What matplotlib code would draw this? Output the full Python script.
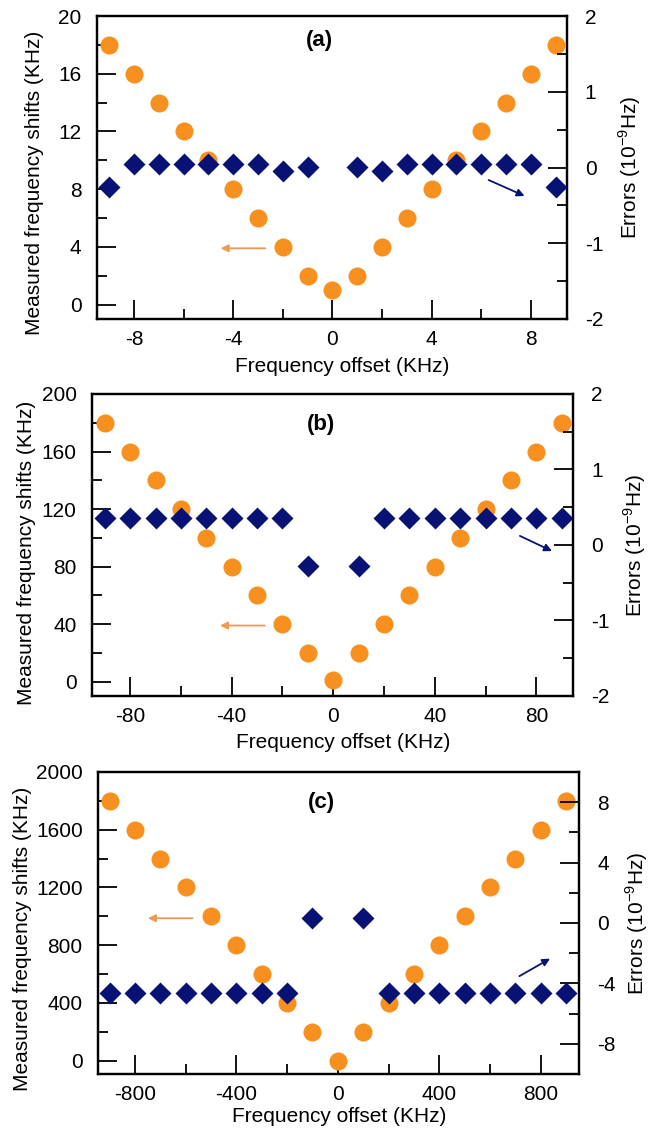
import matplotlib
matplotlib.use("Agg")
import matplotlib.pyplot as plt
from matplotlib.ticker import MultipleLocator

# data
offset_a = [-9, -8, -7, -6, -5, -4, -3, -2, -1, 0, 1, 2, 3, 4, 5, 6, 7, 8, 9]
shift_a = [18, 16, 14, 12, 10, 8, 6, 4, 2, 1, 2, 4, 6, 8, 10, 12, 14, 16, 18]
err_offset_a = [-9, -8, -7, -6, -5, -4, -3, -2, -1, 1, 2, 3, 4, 5, 6, 7, 8, 9]
err_a = [-0.26, 0.05, 0.05, 0.05, 0.05, 0.05, 0.05, -0.04, 0.01,
         0.01, -0.04, 0.05, 0.05, 0.05, 0.05, 0.05, 0.05, -0.26]

offset_b = [-90, -80, -70, -60, -50, -40, -30, -20, -10, 0, 10, 20, 30, 40, 50, 60, 70, 80, 90]
shift_b = [180, 160, 140, 120, 100, 80, 60, 40, 20, 1, 20, 40, 60, 80, 100, 120, 140, 160, 180]
err_offset_b = [-90, -80, -70, -60, -50, -40, -30, -20, -10, 10, 20, 30, 40, 50, 60, 70, 80, 90]
err_b = [0.36, 0.36, 0.36, 0.36, 0.36, 0.36, 0.36, 0.36, -0.28,
         -0.28, 0.36, 0.36, 0.36, 0.36, 0.36, 0.36, 0.36, 0.36]

offset_c = [-900, -800, -700, -600, -500, -400, -300, -200, -100, 0,
            100, 200, 300, 400, 500, 600, 700, 800, 900]
shift_c = [1800, 1600, 1400, 1200, 1000, 800, 600, 400, 200, 0,
           200, 400, 600, 800, 1000, 1200, 1400, 1600, 1800]
err_offset_c = [-900, -800, -700, -600, -500, -400, -300, -200, -100,
                100, 200, 300, 400, 500, 600, 700, 800, 900]
err_c = [-4.66, -4.66, -4.66, -4.66, -4.66, -4.66, -4.66, -4.66, 0.32,
         0.32, -4.66, -4.66, -4.66, -4.66, -4.66, -4.66, -4.66, -4.66]

ORANGE = "#F7901E"
ORANGE_ARROW = "#EE9A50"
NAVY = "#071274"
FS = 15

plt.rcParams["font.family"] = ["Liberation Sans", "DejaVu Sans"]
plt.rcParams["font.size"] = FS
plt.rcParams["axes.unicode_minus"] = False
plt.rcParams["mathtext.fontset"] = "custom"
plt.rcParams["mathtext.rm"] = "Liberation Sans"


def style_axis(ax, side):
    for s in ax.spines.values():
        s.set_linewidth(1.6)
    ax.tick_params(which="both", direction="in", width=1.3, labelsize=FS)
    ax.tick_params(which="major", length=14)
    ax.tick_params(which="minor", length=7)
    if side == "left":
        ax.tick_params(axis="y", which="both", right=False, pad=11)
        ax.tick_params(axis="x", which="both", top=False, pad=8)
    else:
        ax.tick_params(axis="y", which="both", left=False, pad=13)


def panel(rect, label, offs, shifts, eoffs, errs, xlim, ylim, ylim2,
          xstep, ystep, y2step, arrow_o, arrow_b, label_pos, xlabel_pos,
          ylabel_pos, y2label_x):
    ax = fig.add_axes(rect)
    ax2 = ax.twinx()

    ax.plot(offs, shifts, "o", color=ORANGE, ms=13, mec="none", zorder=3)
    ax2.plot(eoffs, errs, "D", color=NAVY, ms=11, mec="none", zorder=3)

    ax.set_xlim(*xlim)
    ax.set_ylim(*ylim)
    ax2.set_ylim(*ylim2)

    ax.xaxis.set_major_locator(MultipleLocator(xstep * 2))
    ax.xaxis.set_minor_locator(MultipleLocator(xstep))
    ax.yaxis.set_major_locator(MultipleLocator(ystep * 2))
    ax.yaxis.set_minor_locator(MultipleLocator(ystep))
    ax2.yaxis.set_major_locator(MultipleLocator(y2step * 2))
    ax2.yaxis.set_minor_locator(MultipleLocator(y2step))

    style_axis(ax, "left")
    style_axis(ax2, "right")

    ax.annotate("", xy=arrow_o[1], xytext=arrow_o[0],
                arrowprops=dict(arrowstyle="-|>", color=ORANGE_ARROW, lw=1.3,
                                mutation_scale=11, shrinkA=0, shrinkB=0))
    ax2.annotate("", xy=arrow_b[1], xytext=arrow_b[0],
                 arrowprops=dict(arrowstyle="-|>", color=NAVY, lw=1.3,
                                 mutation_scale=11, shrinkA=0, shrinkB=0))

    ax.text(label_pos[0], label_pos[1], label, transform=ax.transAxes,
            ha="center", va="center", fontsize=FS + 1, fontweight="bold")

    ax.set_xlabel("Frequency offset (KHz)", fontsize=FS)
    ax.xaxis.set_label_coords(*xlabel_pos)
    ax.set_ylabel("Measured frequency shifts (KHz)", fontsize=FS)
    ax.yaxis.set_label_coords(*ylabel_pos)
    ax2.set_ylabel(r"Errors (10$^{\mathregular{-9}}$Hz)", fontsize=FS)
    ax2.yaxis.set_label_coords(y2label_x, 0.5)
    return ax, ax2


fig = plt.figure(figsize=(6.63, 11.31), dpi=100)

panel([0.1459, 0.71795, 0.7089, 0.2679], "(a)", offset_a, shift_a, err_offset_a, err_a,
      (-9.5, 9.45), (-1, 20), (-2, 2), 2, 2, 0.5,
      ((-2.7, 3.9), (-4.5, 3.9)), ((6.3, -0.165), (7.75, -0.376)),
      (0.473, 0.92), (0.523, -0.125), (-0.112, 0.45), 1.105)

panel([0.1388, 0.38462, 0.7255, 0.26702], "(b)", offset_b, shift_b, err_offset_b, err_b,
      (-95, 94.4), (-10, 200), (-2, 2), 20, 20, 0.5,
      ((-27, 39), (-44.6, 39)), ((73.5, 0.12), (86.1, -0.08)),
      (0.477, 0.9), (0.523, -0.122), (-0.116, 0.475), 1.10)

panel([0.1478, 0.0504, 0.7262, 0.26702], "(c)", offset_c, shift_c, err_offset_c, err_c,
      (-946, 953), (-92, 2000), (-10, 10), 200, 200, 2,
      ((-573, 987), (-749, 987)), ((716, -3.52), (837, -2.36)),
      (0.465, 0.9), (0.50, -0.108), (-0.137, 0.449), 1.092)

fig.savefig("out.png", dpi=100)
